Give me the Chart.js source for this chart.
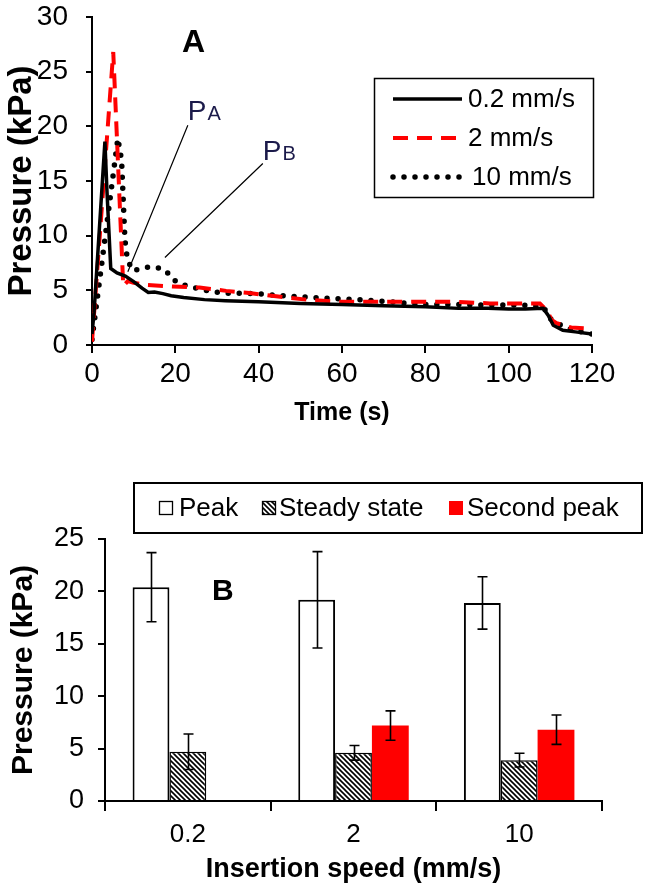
<!DOCTYPE html>
<html>
<head>
<meta charset="utf-8">
<script src="https://cdn.jsdelivr.net/npm/chart.js@4.4.0/dist/chart.umd.min.js"></script>
<style>
  body { margin: 0; background: #fff; }
  #top { position: absolute; left: 0; top: 0; }
  #bottom { position: absolute; left: 0; top: 440px; }
</style>
</head>
<body>
<canvas id="top" width="657" height="440"></canvas>
<canvas id="bottom" width="657" height="448"></canvas>
<script>
// --- A: pressure vs time ---
let timeSlow = [0, 0.5, 3.1, 3.6, 4.5, 6, 8, 10, 12, 13.5, 15, 17, 19, 22, 27, 32, 40, 50, 60, 70, 80, 88, 95, 100, 104, 108.3, 109.5, 110.7, 113, 116, 120];
let presSlow = [1.0, 3.0, 18.6, 14, 7.0, 6.6, 6.3, 5.8, 5.2, 4.8, 4.85, 4.7, 4.5, 4.35, 4.15, 4.05, 3.95, 3.8, 3.7, 3.6, 3.5, 3.35, 3.35, 3.3, 3.3, 3.35, 2.7, 1.8, 1.35, 1.2, 1.0];
let timeMid = [0, 5.1, 7.5, 8.6, 10, 13, 19.4, 25.8, 32.2, 37.8, 44.2, 51.4, 59.5, 67.5, 75.5, 87.5, 95.5, 107.5, 109.1, 110.3, 111.5, 115, 120];
let presMid = [0.3, 26.8, 5.4, 5.85, 5.7, 5.5, 5.35, 5.25, 4.95, 4.75, 4.45, 4.15, 3.95, 3.95, 3.95, 3.95, 3.8, 3.8, 3.2, 2.3, 2.0, 1.6, 1.5];
let timeFast = [0, 6.2, 7.1, 7.9, 8.5, 9.8, 13, 15.4, 17.8, 19, 21.4, 26.6, 31.4, 39.4, 47.4, 55.4, 63.5, 71.5, 79.5, 87.5, 95.5, 103.5, 108.3, 110, 111.5, 115.5, 120];
let presFast = [0.5, 18.9, 16.9, 9.6, 7.8, 6.8, 7.1, 7.1, 6.8, 6.1, 5.55, 5.05, 4.75, 4.7, 4.45, 4.3, 4.15, 3.95, 3.7, 3.7, 3.65, 3.65, 3.5, 2.4, 2.0, 1.36, 1.0];
let seriesNames = ['0.2 mm/s', '2 mm/s', '10 mm/s'];

// --- B: summary bars ---
let speeds = ['0.2', '2', '10'];
let peakMean = [20.4, 19.2, 18.9];
let peakErr = [3.3, 4.6, 2.5];
let steadyMean = [4.7, 4.6, 3.9];
let steadyErr = [1.7, 0.7, 0.65];
let secondMean = [null, 7.2, 6.8];
let secondErr = [null, 1.4, 1.4];

Chart.defaults.font.family = '"Liberation Sans", Arial, sans-serif';
Chart.defaults.color = '#000';

function pts(xs, ys) {
    return xs.map((x, i) => ({ x: x, y: ys[i] }));
}

let navy = '#1b1a4a';

// legend + labels for A
let topExtras = {
    id: 'topExtras',
    afterDatasetsDraw(chart) {
        let ctx = chart.ctx;
        let xs = chart.scales.x, ys = chart.scales.y;
        ctx.save();
        // leader lines
        ctx.strokeStyle = '#000';
        ctx.lineWidth = 1.2;
        ctx.beginPath();
        ctx.moveTo(xs.getPixelForValue(23.0), ys.getPixelForValue(20.1));
        ctx.lineTo(xs.getPixelForValue(8.6), ys.getPixelForValue(6.7));
        ctx.moveTo(xs.getPixelForValue(41.0), ys.getPixelForValue(16.6));
        ctx.lineTo(xs.getPixelForValue(17.5), ys.getPixelForValue(8.0));
        ctx.stroke();
        // P_A, P_B
        ctx.fillStyle = navy;
        ctx.textBaseline = 'alphabetic';
        [['A', 23.0, 20.6], ['B', 41.0, 16.9]].forEach(function (a) {
            let px = xs.getPixelForValue(a[1]), py = ys.getPixelForValue(a[2]);
            ctx.font = '28px "Liberation Sans", Arial, sans-serif';
            ctx.fillText('P', px, py);
            let w = ctx.measureText('P').width;
            ctx.font = '20px "Liberation Sans", Arial, sans-serif';
            ctx.fillText(a[0], px + w + 1, py);
        });
        // panel letter
        ctx.fillStyle = '#000';
        ctx.font = 'bold 32px "Liberation Sans", Arial, sans-serif';
        ctx.fillText('A', xs.getPixelForValue(21.6), ys.getPixelForValue(26.8));
        // legend box
        ctx.lineWidth = 1.5;
        ctx.strokeStyle = '#000';
        ctx.fillStyle = '#fff';
        ctx.fillRect(374, 78, 219, 119);
        ctx.strokeRect(374.5, 78.5, 219, 119);
        ctx.font = '26px "Liberation Sans", Arial, sans-serif';
        ctx.textBaseline = 'middle';
        chart.data.datasets.forEach(function (ds, i) {
            let y = 99 + i * 39;
            ctx.beginPath();
            ctx.setLineDash(ds.borderDash || []);
            ctx.lineCap = ds.borderCapStyle || 'butt';
            ctx.lineWidth = ds.borderWidth;
            ctx.strokeStyle = ds.borderColor;
            ctx.moveTo(393, y);
            ctx.lineTo(462, y);
            ctx.stroke();
            ctx.setLineDash([]);
            ctx.fillStyle = '#000';
            ctx.fillText(ds.label, i === 2 ? 472 : 468, y + 1);
        });
        ctx.restore();
    }
};

new Chart(document.getElementById('top'), {
    type: 'line',
    data: {
        datasets: [
            { label: seriesNames[0], data: pts(timeSlow, presSlow), borderColor: '#000', borderWidth: 3.5 },
            { label: seriesNames[1], data: pts(timeMid, presMid), borderColor: '#ff0000', borderWidth: 4, borderDash: [15, 9] },
            { label: seriesNames[2], data: pts(timeFast, presFast), borderColor: '#000', borderWidth: 5.5, borderDash: [0, 11], borderCapStyle: 'round' }
        ]
    },
    options: {
        responsive: false,
        animation: false,
        devicePixelRatio: 1,
        elements: { point: { radius: 0 }, line: { tension: 0 } },
        layout: { padding: { top: 17, right: 65, left: 0, bottom: 0 } },
        plugins: { legend: { display: false }, tooltip: { enabled: false } },
        scales: {
            x: {
                type: 'linear', min: 0, max: 120,
                ticks: { stepSize: 20, font: { size: 28 }, padding: 4, maxRotation: 0 },
                grid: { drawOnChartArea: false, tickLength: 8, color: '#000', lineWidth: 2 },
                border: { color: '#000', width: 2 },
                title: { display: true, text: 'Time (s)', font: { size: 25, weight: 'bold' }, padding: { top: 0, bottom: 12 } },
                afterFit: function (s) { s.height = 95; }
            },
            y: {
                min: 0, max: 30,
                ticks: { stepSize: 5, font: { size: 28 }, padding: 18 },
                grid: { drawOnChartArea: false, tickLength: 6, color: '#000', lineWidth: 2 },
                border: { color: '#000', width: 2 },
                title: { display: true, text: 'Pressure (kPa)', font: { size: 33, weight: 'bold' }, padding: { top: 2, bottom: 0 } },
                afterFit: function (s) { s.width = 92; s.paddingTop = 0; }
            }
        }
    },
    plugins: [topExtras]
});

// hatch for steady state
function hatch() {
    let p = 5;
    let c = document.createElement('canvas');
    c.width = p; c.height = p;
    let g = c.getContext('2d');
    g.fillStyle = '#fff';
    g.fillRect(0, 0, p, p);
    g.strokeStyle = '#000';
    g.lineWidth = 1.6;
    g.beginPath();
    g.moveTo(-1, -1); g.lineTo(p + 1, p + 1);
    g.moveTo(-1, p - 1); g.lineTo(1, p + 1);
    g.moveTo(p - 1, -1); g.lineTo(p + 1, 1);
    g.stroke();
    return g.createPattern(c, 'repeat');
}
let hatchFill = hatch();

let errorBars = {
    id: 'errorBars',
    afterDatasetsDraw(chart) {
        let ctx = chart.ctx;
        let ys = chart.scales.y;
        ctx.save();
        ctx.strokeStyle = '#000';
        ctx.lineWidth = 1.6;
        chart.data.datasets.forEach(function (ds, i) {
            let meta = chart.getDatasetMeta(i);
            meta.data.forEach(function (bar, j) {
                let v = ds.data[j], e = ds.errors[j];
                if (v == null || e == null) return;
                let x = Math.round(bar.x) + 0.5;
                let y1 = ys.getPixelForValue(v + e), y2 = ys.getPixelForValue(v - e);
                ctx.beginPath();
                ctx.moveTo(x, y1); ctx.lineTo(x, y2);
                ctx.moveTo(x - 5, y1); ctx.lineTo(x + 5, y1);
                ctx.moveTo(x - 5, y2); ctx.lineTo(x + 5, y2);
                ctx.stroke();
            });
        });
        // legend box
        ctx.lineWidth = 2;
        ctx.strokeRect(134, 43, 508, 50);
        ctx.font = '26px "Liberation Sans", Arial, sans-serif';
        ctx.textBaseline = 'middle';
        let spots = [[159, 179], [262, 279], [449, 467]];
        chart.data.datasets.forEach(function (ds, i) {
            let sx = spots[i][0];
            ctx.fillStyle = ds.backgroundColor;
            ctx.fillRect(sx, 61, 14, 14);
            if (ds.borderWidth) {
                ctx.lineWidth = 1.3;
                ctx.strokeRect(sx + 0.5, 61.5, 13, 13);
            }
            ctx.fillStyle = '#000';
            ctx.fillText(ds.label, spots[i][1], 69);
        });
        ctx.font = 'bold 30px "Liberation Sans", Arial, sans-serif';
        ctx.textBaseline = 'alphabetic';
        ctx.fillText('B', 212, 160);
        ctx.restore();
    }
};

new Chart(document.getElementById('bottom'), {
    type: 'bar',
    data: {
        labels: speeds,
        datasets: [
            { label: 'Peak', data: peakMean, errors: peakErr, backgroundColor: '#fff', borderColor: '#000', borderWidth: 2 },
            { label: 'Steady state', data: steadyMean, errors: steadyErr, backgroundColor: hatchFill, borderColor: '#000', borderWidth: 1.5 },
            { label: 'Second peak', data: secondMean, errors: secondErr, backgroundColor: '#ff0000', borderWidth: 0 }
        ]
    },
    options: {
        responsive: false,
        animation: false,
        devicePixelRatio: 1,
        categoryPercentage: 0.667,
        barPercentage: 1.0,
        layout: { padding: { top: 99, right: 55, left: 0, bottom: 0 } },
        plugins: { legend: { display: false }, tooltip: { enabled: false } },
        scales: {
            x: {
                ticks: { font: { size: 26 }, padding: 8 },
                grid: { drawOnChartArea: false, tickLength: 10, color: '#000', lineWidth: 2 },
                border: { color: '#000', width: 2 },
                title: { display: true, text: 'Insertion speed (mm/s)', font: { size: 27, weight: 'bold' }, padding: { top: 0, bottom: 2 } },
                afterFit: function (s) { s.height = 87; }
            },
            y: {
                min: 0, max: 25,
                ticks: { stepSize: 5, font: { size: 27 }, padding: 14 },
                grid: { drawOnChartArea: false, tickLength: 7, color: '#000', lineWidth: 2 },
                border: { color: '#000', width: 2 },
                title: { display: true, text: 'Pressure (kPa)', font: { size: 30, weight: 'bold' }, padding: { top: 6, bottom: 0 } },
                afterFit: function (s) { s.width = 105; }
            }
        }
    },
    plugins: [errorBars]
});
</script>
</body>
</html>
